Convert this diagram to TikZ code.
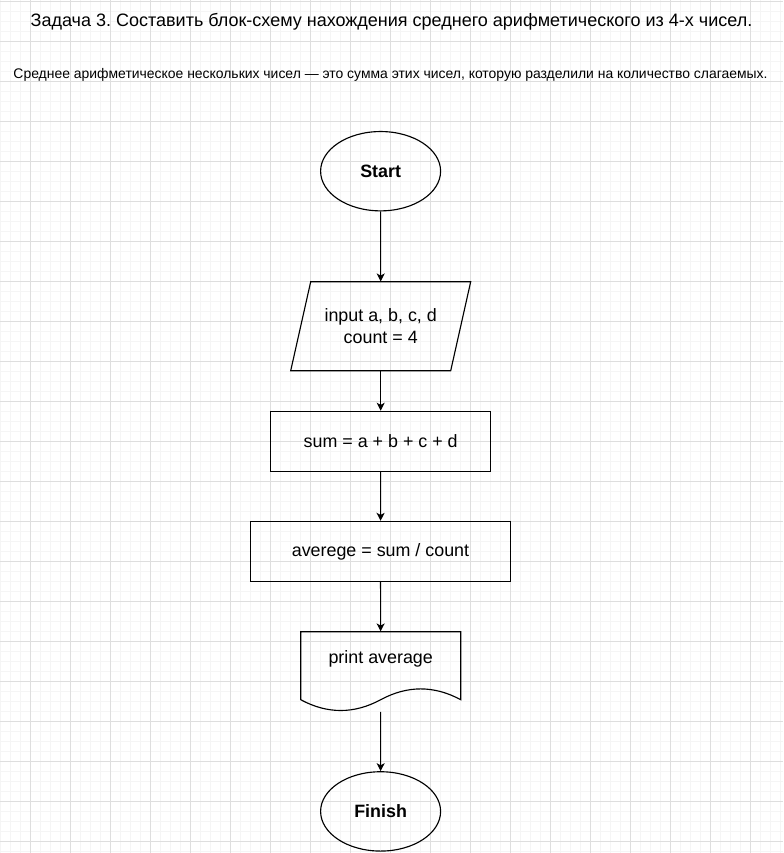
\documentclass[tikz,border=0pt]{standalone}
\usepackage{fontspec}
\setmainfont{Liberation Sans}
\usetikzlibrary{arrows.meta,shapes.geometric}
\definecolor{gridminor}{HTML}{F5F5F5}
\definecolor{gridmajor}{HTML}{DEDEDE}
\frenchspacing
\begin{document}
\begin{tikzpicture}[x=0.75pt,y=-0.75pt,
  minorline/.style={draw=gridminor,line width=0.75pt},
  majorline/.style={draw=gridmajor,line width=0.75pt},
  box/.style={draw=none,rectangle,inner sep=0pt,font=\fontsize{13.4pt}{16.2pt}\selectfont,align=center},
  shapeline/.style={draw=black,line width=0.85pt},
  term/.style={ellipse,draw=black,line width=0.85pt,inner sep=0pt,minimum width=90pt,minimum height=59.5pt,font=\bfseries\fontsize{13.4pt}{16pt}\selectfont},
  proc/.style={rectangle,draw=black,line width=0.85pt,inner sep=0pt,minimum height=45pt,font=\fontsize{13.4pt}{16pt}\selectfont},
  flow/.style={draw=black,line width=0.85pt,-{Stealth[length=6pt,width=6pt,inset=1.6pt]}},
  txt/.style={inner sep=0pt,anchor=base}
]
\useasboundingbox (0,0) rectangle (783,853);
\fill[white] (0,0) rectangle (783,853);
% grid
\foreach \i in {0,...,78} \draw[minorline] ({10*\i+0.5},0) -- ({10*\i+0.5},853);
\foreach \i in {0,...,85} \draw[minorline] (0,{10*\i+1.3}) -- (783,{10*\i+1.3});
\foreach \i in {0,...,19} \draw[majorline] ({40*\i+30.5},0) -- ({40*\i+30.5},853);
\foreach \i in {0,...,21} \draw[majorline] (0,{40*\i+1.3}) -- (783,{40*\i+1.3});

% texts
\node[txt,font=\fontsize{13.5pt}{16pt}\selectfont] (title) at (391.5,26.5) {Задача 3. Составить блок-схему нахождения среднего арифметического из 4-х чисел.};
\node[txt,font=\fontsize{10.45pt}{12pt}\selectfont] (sub) at (390.5,78.5) {Среднее арифметическое нескольких чисел — это сумма этих чисел, которую разделили на количество слагаемых.};

% start
\node[term] (start) at (380.6,171.2) {Start};

% input parallelogram
\node[box,minimum width=135pt,minimum height=66.75pt] (inp) at (380.7,326.2) {input a, b, c, d\\count = 4};
\draw[shapeline] (310.7,281.7) -- (470.7,281.7) -- (450.7,370.7) -- (290.7,370.7) -- cycle;

% sum
\node[proc,minimum width=165pt] (sum) at (380.7,441.3) {sum = a + b + c + d};

% average
\node[proc,minimum width=195pt] (avg) at (380.5,551.4) {averege = sum / count};

% print (document shape)
\node[box,minimum width=120pt,minimum height=60pt] (prn) at (380.7,671.7) {};
\node[box] (prntext) at (380.7,659.3) {print average};
\draw[shapeline] (300.7,631.7) -- (460.7,631.7) -- (460.7,699.7)
  .. controls (434.0,685.3) and (407.4,685.3) .. (380.7,699.7)
  .. controls (354.0,714.1) and (327.4,714.1) .. (300.7,699.7) -- cycle;

% finish
\node[term] (fin) at (380.6,811.4) {Finish};

% connectors
\draw[flow] (start) -- (inp);
\draw[flow] (inp) -- (sum);
\draw[flow] (sum) -- (avg);
\draw[flow] (avg) -- (prn);
\draw[flow] (prn) -- (fin);
\end{tikzpicture}
\end{document}
